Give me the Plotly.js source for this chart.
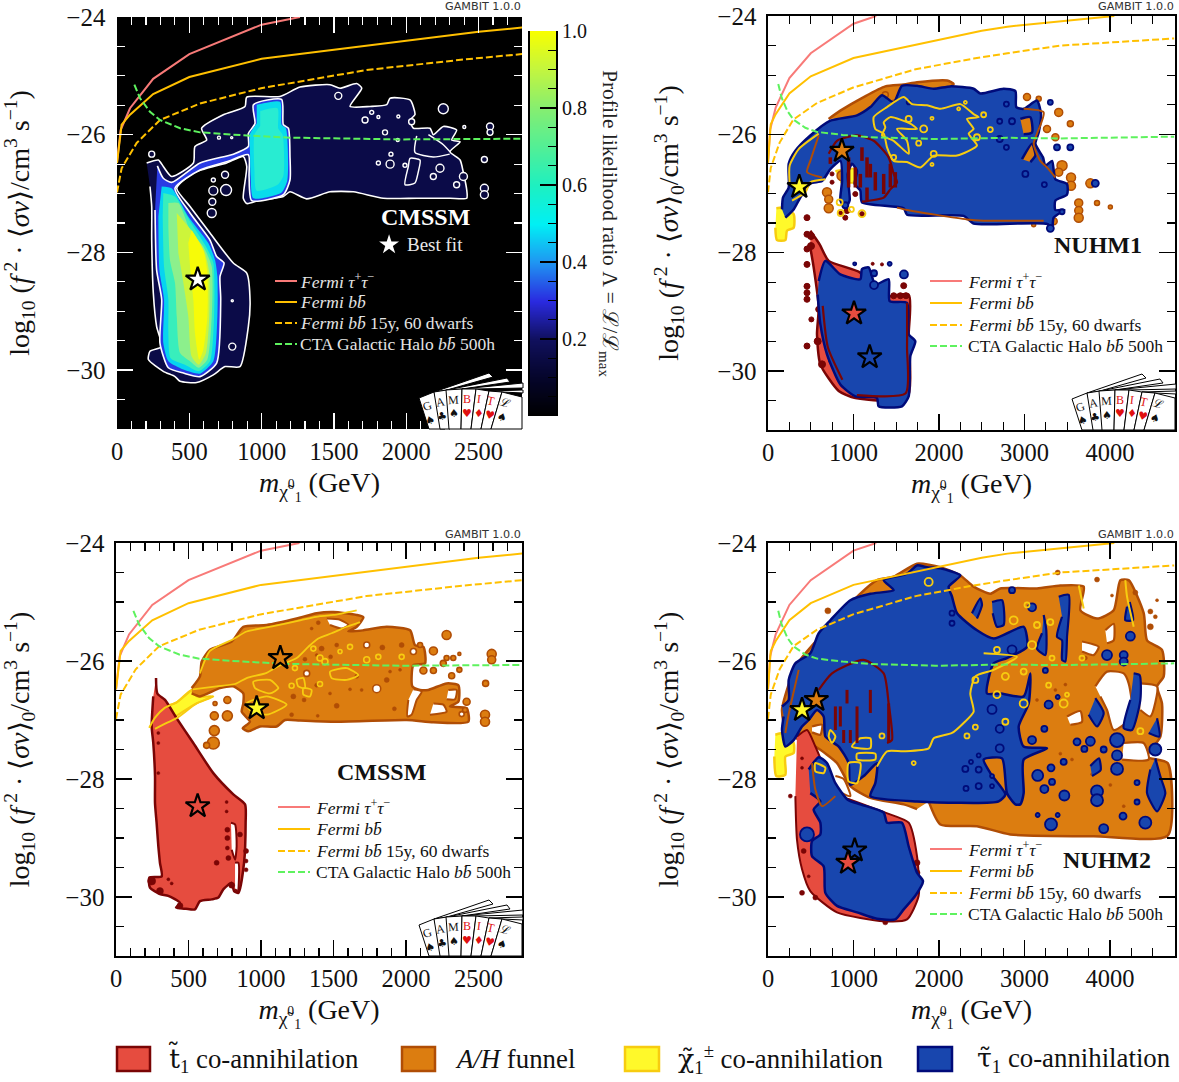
<!DOCTYPE html>
<html><head><meta charset="utf-8">
<script src="https://cdn.plot.ly/plotly-3.0.1.min.js"></script>
<style>html,body{margin:0;padding:0;background:#fff}#c{width:1179px;height:1082px}</style>
</head><body><div id="c"></div>
<script>
// ---------- limit curves (mass GeV, log10 <sigma v>) ----------
const tauMass=[0,25,90,250,500,1000,1265];
const tauLimit=[-26.48,-25.92,-25.55,-25.05,-24.63,-24.13,-24.0];
const bbMass=[0,32,90,250,500,1000,2500,2800,4050];
const bbLimit=[-26.48,-25.83,-25.66,-25.31,-25.02,-24.71,-24.25,-24.18,-24.0];
const bb15Mass=[0,32,136,297,574,996,1726,2405,2800,3420,4750];
const bb15Limit=[-26.98,-26.57,-26.14,-25.75,-25.47,-25.21,-24.90,-24.72,-24.63,-24.50,-24.38];
const ctaMass=[120,159,228,297,436,574,873,1196,1957,2800,3420,4750];
const ctaLimit=[-25.15,-25.38,-25.61,-25.75,-25.89,-25.96,-26.01,-26.05,-26.08,-26.06,-26.07,-26.04];

// ---------- panel 1: profile likelihood regions ----------
const plOuter=[[205,-26.48],[286,-26.43],[320,-26.54],[378,-26.71],[528,-26.48],[539,-26.20],[620,-26.09],[585,-25.89],[735,-25.66],[885,-25.52],[897,-25.36],[1127,-25.35],[1265,-25.19],[1473,-25.15],[1542,-25.21],[1657,-25.13],[1692,-25.21],[1611,-25.52],[1749,-25.52],[1865,-25.49],[1888,-25.38],[2026,-25.41],[2060,-25.66],[2026,-25.75],[2049,-25.89],[2164,-25.89],[2187,-26.00],[2256,-25.86],[2348,-25.92],[2314,-26.09],[2372,-26.12],[2302,-26.29],[2372,-26.43],[2395,-26.65],[2418,-26.94],[2418,-27.08],[2302,-27.08],[2072,-27.08],[1841,-27.08],[1634,-26.97],[1473,-26.97],[1311,-27.09],[1196,-26.97],[1150,-27.05],[989,-27.11],[897,-27.17],[873,-27.08],[897,-26.54],[873,-26.37],[758,-26.48],[528,-26.65],[413,-26.91],[505,-27.22],[643,-27.67],[804,-28.18],[897,-28.35],[920,-28.83],[908,-29.26],[850,-29.94],[747,-29.94],[666,-30.08],[551,-30.21],[436,-30.19],[401,-30.11],[320,-30.02],[217,-29.82],[228,-29.68],[309,-29.60],[274,-29.26],[251,-28.69],[240,-27.79],[240,-27.22],[228,-26.88]];
const plInner=[[279,-26.53],[320,-26.74],[378,-26.81],[574,-26.48],[804,-26.33],[908,-26.20],[908,-25.98],[954,-25.81],[943,-25.49],[1138,-25.40],[1150,-25.83],[1185,-25.89],[1196,-26.37],[1196,-26.77],[1150,-27.02],[931,-27.12],[913,-26.71],[908,-26.34],[758,-26.46],[574,-26.60],[401,-26.91],[505,-27.33],[643,-27.79],[689,-28.07],[740,-28.18],[712,-28.41],[717,-28.80],[689,-29.88],[574,-30.11],[459,-30.05],[355,-29.96],[297,-29.54],[309,-28.80],[274,-28.30],[263,-27.28]];
const plBox=[[966,-25.49],[1127,-25.44],[1138,-25.83],[1168,-25.89],[1178,-26.77],[1138,-26.98],[943,-27.08],[924,-26.71],[920,-26.34],[920,-25.98],[966,-25.81]];
const plBoxCore=[[990,-25.60],[1110,-25.55],[1115,-25.90],[1145,-26.00],[1150,-26.70],[1110,-26.85],[965,-26.95],[950,-26.60],[950,-26.00],[990,-25.85]];
const plLevel1=[[309,-26.88],[378,-26.91],[493,-27.39],[631,-27.84],[678,-28.13],[694,-28.41],[694,-29.09],[666,-29.85],[574,-30.06],[459,-29.99],[355,-29.85],[320,-29.54],[325,-28.80],[293,-28.30],[286,-27.39]];
const plLevel2=[[320,-26.99],[401,-27.05],[505,-27.47],[615,-27.90],[666,-28.18],[671,-29.09],[643,-29.85],[565,-30.02],[470,-29.91],[371,-29.80],[355,-29.37],[355,-28.80],[325,-28.24],[316,-27.39]];
const plLevel3=[[355,-27.16],[424,-27.16],[505,-27.62],[597,-27.90],[655,-28.24],[655,-29.09],[625,-29.82],[565,-29.96],[505,-29.85],[436,-29.71],[413,-29.09],[401,-28.52],[366,-28.13],[355,-27.56]];
const plLevel4=[[413,-27.33],[528,-27.67],[608,-28.01],[638,-28.35],[638,-29.09],[615,-29.71],[565,-29.91],[516,-29.77],[493,-29.09],[459,-28.52],[424,-28.01]];
const plLevel5=[[516,-27.62],[597,-27.96],[625,-28.35],[625,-29.09],[597,-29.65],[569,-29.82],[539,-29.37],[528,-28.80],[505,-28.24],[493,-27.84]];
const plLoops=[[[2026,-26.40],[2095,-26.43],[2083,-26.63],[2060,-26.82],[1991,-26.85],[2014,-26.54],[2026,-26.40]],[[2072,-26.02],[2060,-26.30],[2187,-26.38],[2300,-26.33]],[[2153,-26.00],[2256,-26.17],[2302,-26.29]]];
const plIslands=[[666,-26.95,9],[754,-26.94,11],[659,-27.14,7],[655,-27.33,9],[747,-26.68,7],[666,-26.77,4],[240,-26.33,6],[2256,-25.56,10],[2579,-25.86,7],[2579,-25.96,6],[2540,-26.42,6],[2540,-26.91,8],[2540,-27.02,8],[1530,-25.34,7],[1715,-25.75,6],[1761,-25.62,4],[1853,-25.96,5],[1888,-26.50,8],[1807,-26.48,4],[1894,-26.33,4],[1945,-25.69,3],[1807,-25.70,3],[2037,-25.78,6],[2401,-25.87,3],[2187,-26.71,6],[2233,-26.57,8],[2348,-26.85,6],[2395,-26.71,8],[1991,-26.52,4],[797,-29.60,7],[797,-28.82,2],[705,-26.05,3],[793,-26.05,2],[1941,-26.09,3]];

// ---------- panel 3: CMSSM regions ----------
const cmssmStop=[[276,-26.29],[285,-26.55],[338,-26.66],[418,-26.97],[533,-27.39],[671,-27.90],[809,-28.26],[890,-28.43],[894,-28.74],[883,-29.42],[844,-29.93],[814,-29.90],[798,-29.76],[740,-29.87],[706,-30.01],[660,-30.04],[579,-30.07],[545,-30.21],[483,-30.20],[414,-30.18],[441,-30.10],[361,-29.98],[303,-29.95],[234,-29.84],[230,-29.67],[315,-29.65],[303,-29.42],[292,-29.14],[280,-28.74],[269,-28.41],[269,-27.95],[257,-27.39],[246,-27.11],[257,-26.60]];
const cmssmStopHole1=[[793,-28.74],[821,-28.77],[832,-29.14],[821,-29.37],[798,-29.20]];
const cmssmStopHole2=[[821,-29.42],[844,-29.42],[839,-29.90],[821,-29.87]];
const cmssmFunnel=[[522,-26.46],[579,-26.26],[591,-26.01],[648,-25.81],[798,-25.67],[878,-25.42],[1039,-25.39],[1246,-25.28],[1384,-25.19],[1499,-25.17],[1660,-25.22],[1706,-25.26],[1660,-25.42],[1602,-25.50],[1706,-25.48],[1867,-25.42],[2028,-25.48],[2062,-25.73],[2120,-25.76],[2131,-26.04],[2051,-26.07],[2044,-26.43],[2097,-26.49],[2154,-26.49],[2280,-26.38],[2361,-26.41],[2361,-26.69],[2303,-26.77],[2418,-26.80],[2430,-27.03],[2189,-27.04],[2005,-27.00],[1499,-27.03],[1269,-27.01],[1166,-27.00],[1108,-27.11],[993,-27.11],[913,-27.19],[874,-27.14],[924,-27.03],[867,-26.86],[878,-26.72],[878,-26.55],[809,-26.43],[717,-26.46],[579,-26.60],[522,-26.55]];
const cmssmFunnelHoles=[[[1453,-25.28],[1545,-25.30],[1602,-25.39],[1556,-25.45],[1476,-25.39]],[[2051,-26.48],[2108,-26.52],[2074,-26.66],[2039,-26.91],[2010,-26.94],[2016,-26.66]],[[2292,-26.49],[2349,-26.49],[2338,-26.65],[2280,-26.65]],[[2189,-26.72],[2257,-26.74],[2280,-26.86],[2165,-26.91]]];
const cmssmChargino=[[230,-27.13],[327,-26.79],[418,-26.70],[522,-26.49],[556,-26.60],[671,-26.60],[556,-26.72],[430,-26.91],[350,-27.05],[269,-27.15]];
const cmssmCharginoEdge=[[[230,-27.13],[269,-26.96],[338,-26.79],[418,-26.70],[522,-26.49]],[[269,-27.15],[350,-27.05],[418,-26.97],[556,-26.72],[671,-26.60]]];
const cmssmFunnelIslands=[[2280,-25.56,9],[2591,-25.88,9],[2591,-25.98,8],[2189,-25.83,8],[2280,-25.95,5],[2326,-25.95,5],[2257,-26.04,6],[2120,-26.16,7],[2189,-26.16,6],[2315,-26.25,6],[2368,-26.15,5],[2368,-25.88,3],[2097,-25.73,5],[2549,-26.38,6],[2545,-26.91,9],[2545,-27.03,9],[2418,-26.69,7],[2407,-26.83,5],[683,-26.72,4],[768,-26.66,7],[678,-26.93,8],[768,-26.93,10],[678,-27.18,10],[671,-27.39,12],[625,-27.43,6]];
const cmssmWhiteDots=[[1729,-25.73,6],[1315,-26.21,6],[1798,-26.47,8],[2051,-25.84,6],[2384,-26.90,5]];
const cmssmFunnelDots=[[1395,-25.35,4],[1349,-25.45,3],[1418,-25.79,5],[1522,-25.73,4],[1480,-25.93,4],[1384,-25.90,3],[1303,-25.97,4],[1223,-26.60,5],[1297,-26.66,4],[1522,-26.76,5],[1391,-26.93,3],[1920,-26.81,4],[1867,-26.32,5],[1837,-25.77,5],[1970,-25.73,5],[1959,-26.15,3],[1890,-26.18,3],[1384,-26.41,4],[1614,-26.48,3],[1694,-26.49,3],[1211,-26.91,4],[1476,-26.55,3],[1660,-26.26,4]];
const cmssmFunnelYellowLines=[[[579,-26.21],[648,-25.83],[809,-25.63],[901,-25.50],[1085,-25.41],[1269,-25.31],[1407,-25.24],[1499,-25.22],[1660,-25.14]],[[529,-26.48],[694,-26.43],[821,-26.39],[901,-26.29],[1039,-26.20],[1131,-26.07],[1246,-25.95],[1326,-25.76],[1395,-25.62],[1487,-25.53],[1591,-25.42],[1683,-25.34]],[[947,-26.35],[1062,-26.32],[1120,-26.46],[1062,-26.55],[959,-26.46],[947,-26.35]],[[901,-26.72],[1039,-26.60],[1177,-26.74],[1039,-26.91],[924,-26.83],[901,-26.72]],[[1292,-26.46],[1349,-26.49],[1338,-26.60],[1292,-26.57],[1292,-26.46]],[[1246,-26.32],[1292,-26.29],[1303,-26.46],[1257,-26.43],[1246,-26.32]],[[1476,-26.18],[1591,-26.12],[1671,-26.24],[1591,-26.32],[1487,-26.29],[1476,-26.18]]];
const cmssmYellowRings=[[1211,-26.42,5],[1407,-25.95,6],[1729,-25.98,6],[1809,-25.93,5],[1970,-25.93,5],[1614,-25.76,5],[1545,-25.84,4],[1361,-25.79,5],[1441,-26.01,6],[1407,-26.39,5],[1234,-26.12,5]];
const cmssmStopDots=[[292,-27.22,3],[292,-27.39,3],[292,-27.90,3],[763,-28.39,3],[763,-28.55,3],[694,-29.42,5],[897,-29.22,5],[897,-29.39,4],[897,-29.54,4],[798,-29.80,6],[246,-29.73,8],[303,-29.90,7],[361,-29.70,3],[384,-29.77,3],[441,-30.15,6],[768,-28.86,5],[768,-29.00,5],[768,-29.17,4],[775,-29.34,5],[855,-28.94,5]];

// ---------- panel 2: NUHM1 regions ----------
const nuhm1StauUpper=[[164,-27.27],[175,-27.07],[242,-26.90],[242,-26.50],[320,-26.28],[495,-26.02],[729,-25.77],[1041,-25.68],[1197,-25.54],[1333,-25.34],[1470,-25.46],[1567,-25.18],[1743,-25.18],[1938,-25.23],[2133,-25.19],[2405,-25.23],[2483,-25.31],[2756,-25.23],[2893,-25.27],[2904,-25.54],[2990,-25.57],[3146,-25.43],[3193,-25.66],[3166,-25.97],[3127,-26.16],[3216,-26.39],[3244,-26.53],[3322,-26.45],[3361,-26.76],[3497,-26.84],[3497,-27.02],[3361,-27.12],[3361,-27.28],[3466,-27.28],[3341,-27.41],[3322,-27.63],[3271,-27.52],[2405,-27.51],[2288,-27.38],[1626,-27.36],[1587,-27.25],[1099,-27.15],[1080,-26.95],[1014,-26.84],[1041,-26.62],[982,-26.50],[932,-26.67],[955,-27.12],[904,-27.24],[846,-27.12],[866,-26.79],[846,-26.45],[729,-26.59],[632,-26.79],[495,-26.83],[378,-27.07],[300,-27.27],[203,-27.41]];
const nuhm1StauLower=[[593,-28.48],[671,-28.14],[846,-28.37],[1080,-28.45],[1099,-28.28],[1177,-28.25],[1255,-28.54],[1411,-28.45],[1423,-28.82],[1626,-28.85],[1645,-29.38],[1723,-29.50],[1665,-29.75],[1645,-30.43],[1567,-30.60],[1294,-30.60],[1275,-30.46],[1021,-30.43],[846,-30.23],[690,-29.72],[612,-29.21],[581,-28.71]];
const nuhm1Stop=[[495,-27.63],[604,-27.86],[710,-28.14],[1080,-28.34],[1275,-28.76],[1645,-28.71],[1645,-29.38],[1626,-30.46],[1021,-30.46],[827,-30.34],[612,-29.89],[573,-29.38],[593,-28.93],[534,-28.25],[495,-27.92]];
const nuhm1Funnel=[[709,-25.74],[846,-25.60],[1119,-25.37],[1372,-25.19],[1587,-25.16],[1743,-25.12],[2094,-25.09],[2172,-25.15],[2094,-25.23],[1470,-25.43],[1080,-25.71]];
const nuhm1Chargino=[[98,-27.25],[183,-27.24],[300,-27.35],[300,-27.58],[222,-27.63],[203,-27.79],[105,-27.79],[86,-27.58]];
const nuhm1CharginoPatch=[[788,-26.62],[1021,-26.59],[1021,-26.81],[846,-26.81]];
const nuhm1FunnelNotches=[[[2951,-25.74],[3068,-25.71],[3088,-25.97],[2990,-26.00]],[[2971,-26.42],[3088,-26.16],[3127,-26.36],[3068,-26.47]]];
const nuhm1FunnelIslands=[[3029,-25.37,7],[3166,-25.40,5],[3400,-25.63,8],[3536,-25.82,6],[3263,-25.91,7],[3361,-26.05,7],[3439,-26.53,10],[3400,-26.64,8],[3544,-26.73,9],[3544,-26.87,9],[3263,-27.04,8],[3770,-26.83,9],[3634,-27.16,8],[3634,-27.29,8],[3634,-27.41,9],[3848,-27.16,5],[4004,-27.23,4],[3107,-27.27,5],[3341,-27.47,7],[3107,-27.53,4],[846,-25.85,7],[1372,-25.33,6],[515,-26.64,7],[710,-27.25,9],[690,-26.98,9],[710,-27.10,8],[866,-26.70,10],[2729,-25.88,4],[2725,-26.62,3],[2815,-26.55,3]];
const nuhm1StauIslands=[[3302,-25.46,5],[2788,-25.49,5],[2710,-25.78,5],[2854,-25.78,6],[2710,-26.08,6],[2788,-26.22,5],[3380,-26.22,6],[3536,-26.22,6],[3010,-26.67,6],[3232,-26.85,5],[3828,-26.83,7],[3439,-27.31,5],[3302,-27.59,7],[1645,-25.46,4],[1014,-28.19,3],[1423,-28.19,4],[1590,-28.37,8],[1240,-28.55,8],[1240,-28.35,6],[904,-27.20,6]];
const nuhm1YellowRings=[[1645,-25.74,6],[1821,-25.91,7],[2522,-25.67,5],[2600,-25.92,5],[1762,-26.15,5],[1938,-26.33,6],[1470,-26.39,5],[1918,-25.73,3],[2230,-25.57,3],[2308,-25.46,3],[1918,-26.51,3],[2444,-26.05,6],[838,-27.15,6],[850,-27.33,6],[1099,-27.34,7],[975,-27.27,5]];
const nuhm1MaroonDots=[[456,-27.41,6],[503,-27.72,7],[503,-27.89,7],[456,-27.69,6],[456,-27.94,6],[456,-28.20,6],[456,-28.57,6],[456,-28.68,6],[456,-28.79,6],[456,-29.58,6],[507,-29.13,5],[581,-29.50,7],[593,-28.96,6],[632,-29.89,7],[729,-29.84,3],[1224,-28.19,3],[1333,-28.20,3],[1470,-28.73,6],[1548,-28.73,6],[1614,-28.73,6],[1587,-28.56,6],[1501,-29.16,5],[1236,-26.36,3],[904,-27.41,5],[924,-27.29,6],[846,-27.34,5],[1099,-27.35,5],[1021,-27.01,5],[749,-26.67,4],[749,-26.81,4]];
const nuhm1MaroonStreaks=[[729,-26.39,-26.50],[1099,-26.22,-26.45],[1158,-26.39,-26.73],[1158,-26.90,-27.12],[1255,-26.64,-26.95],[1353,-26.67,-27.01],[1431,-26.50,-26.90],[1021,-26.56,-26.90],[1080,-26.67,-26.90],[943,-26.39,-26.90],[1489,-26.64,-26.90],[1197,-26.50,-26.73]];
const nuhm1MaroonLines=[[[710,-26.33],[807,-26.11],[1041,-26.02],[1236,-26.11],[1411,-26.39],[1470,-26.67],[1509,-26.81],[1431,-26.93],[1353,-27.07],[1099,-27.14]],[[1626,-28.85],[1626,-29.60],[1610,-30.38],[1040,-30.41]],[[640,-28.90],[700,-29.60],[870,-30.15]]];
const nuhm1OrangeLines=[[[593,-26.02],[495,-26.45],[456,-26.64],[632,-26.73]],[[1509,-27.24],[1626,-27.28],[2327,-27.44],[2522,-27.46],[3224,-27.46]],[[2990,-25.57],[3224,-25.63],[3146,-25.99],[3107,-26.16],[3185,-26.45],[3263,-26.56],[3361,-26.73]]];
const nuhm1YellowLines=[[[1236,-25.71],[1392,-25.54],[1587,-25.37],[1684,-25.49],[1860,-25.51],[2016,-25.57],[2250,-25.49],[2405,-25.66],[2464,-25.71],[2327,-25.74],[2405,-25.91],[2347,-25.99],[2444,-26.19],[2211,-26.36],[1938,-26.36],[1782,-26.56],[1626,-26.47],[1470,-26.45],[1392,-26.22],[1353,-25.99],[1255,-25.91],[1236,-25.71]],[[1353,-25.80],[1431,-25.71],[1665,-25.82],[1743,-25.91],[1509,-25.91],[1626,-26.11],[1645,-26.33],[1470,-26.11],[1333,-26.02],[1372,-25.88],[1353,-25.80]],[[253,-26.84],[253,-26.53],[359,-26.25],[593,-25.99]],[[281,-27.12],[437,-26.98],[495,-26.81],[671,-26.76]]];

// ---------- panel 4: NUHM2 regions ----------
const nuhm2Funnel=[[1879,-28.38],[2016,-28.77],[2444,-28.80],[2834,-28.94],[3809,-28.97],[4674,-28.96],[4674,-27.73],[4433,-27.62],[4589,-27.28],[4608,-26.72],[4550,-26.43],[4628,-26.26],[4608,-25.81],[4433,-25.65],[4394,-25.19],[4218,-24.63],[4121,-24.63],[4043,-25.14],[3848,-25.28],[3653,-25.14],[3692,-24.74],[3419,-24.72],[3146,-24.77],[2717,-24.77],[2600,-24.86],[2405,-24.74],[2250,-24.55],[2016,-24.41],[1743,-24.35],[1470,-24.57],[1275,-24.63],[1080,-24.86],[378,-25.98],[261,-26.32],[164,-26.83],[222,-27.22],[554,-27.45],[807,-27.73],[963,-28.12],[1197,-28.32],[1587,-28.43],[1743,-28.51]];
const nuhm2FunnelHoles=[[[3828,-26.43],[3965,-26.18],[4160,-26.21],[4218,-26.38],[4257,-26.94],[4043,-27.17],[3965,-26.83],[3887,-26.60]],[[3497,-26.94],[3653,-26.85],[3672,-27.03],[3536,-27.08]],[[3672,-25.67],[3867,-25.76],[3809,-25.90],[3672,-25.84]],[[4160,-27.39],[4394,-27.39],[4452,-27.67],[4141,-27.67]],[[4355,-26.38],[4550,-26.43],[4472,-26.94],[4355,-26.83]],[[515,-27.11],[632,-27.08],[612,-27.25],[515,-27.21]],[[3945,-25.48],[4043,-25.37],[4043,-25.65],[3965,-25.70]],[[788,-27.95],[885,-28.00],[963,-28.29],[866,-28.24]]];
const nuhm2Stop=[[339,-27.28],[456,-27.17],[554,-27.45],[671,-27.84],[846,-28.29],[963,-28.35],[1372,-28.57],[1645,-28.74],[1743,-29.31],[1762,-29.98],[1626,-30.38],[1353,-30.41],[807,-30.26],[495,-29.90],[398,-29.53],[339,-29.03],[320,-28.29]];
const nuhm2StauUpper=[[164,-26.77],[242,-26.66],[242,-26.32],[320,-26.04],[495,-25.87],[593,-25.53],[729,-25.31],[963,-24.97],[1197,-24.86],[1470,-24.80],[1353,-24.63],[1626,-24.52],[1743,-24.38],[1860,-24.41],[2016,-24.43],[2250,-24.55],[2113,-24.74],[2152,-24.91],[2211,-25.19],[2444,-25.48],[2639,-25.62],[2990,-25.42],[3029,-25.76],[2795,-25.95],[2639,-26.04],[2561,-26.55],[2717,-26.55],[2990,-26.60],[3068,-26.21],[3049,-26.72],[2932,-27.11],[2990,-27.45],[3263,-27.48],[2990,-27.67],[2990,-28.24],[2951,-28.43],[2893,-28.43],[2795,-28.24],[2737,-27.65],[2522,-27.67],[2600,-27.90],[2776,-28.26],[2698,-28.38],[1743,-28.38],[1197,-28.29],[1255,-28.07],[1275,-27.73],[1119,-27.95],[963,-28.10],[943,-27.73],[827,-27.45],[671,-27.28],[651,-26.94],[573,-26.83],[476,-27.00],[398,-27.11],[300,-27.34],[203,-27.45],[164,-27.17],[183,-26.94]];
const nuhm2StauLower=[[476,-27.84],[593,-27.63],[690,-27.73],[788,-28.07],[932,-28.35],[1080,-28.43],[1353,-28.57],[1392,-28.74],[1567,-28.74],[1645,-29.14],[1743,-29.59],[1813,-29.73],[1723,-29.98],[1587,-30.21],[1489,-30.38],[1275,-30.37],[1041,-30.26],[807,-30.15],[671,-29.93],[651,-29.48],[515,-29.31],[515,-29.05],[612,-28.94],[612,-28.74],[534,-28.52],[612,-28.38],[495,-28.24]];
const nuhm2StauPolys=[[[4530,-27.65],[4589,-27.96],[4647,-28.24],[4550,-28.55],[4433,-28.24],[4472,-27.84]],[[4230,-25.00],[4269,-25.31],[4179,-25.31],[4199,-25.08]],[[3400,-24.91],[3517,-24.88],[3497,-25.59],[3478,-26.01],[3439,-25.98],[3439,-25.65],[3380,-25.59],[3439,-25.25]],[[3224,-25.22],[3255,-25.48],[3244,-25.90],[3146,-25.79],[3205,-25.53]],[[2620,-25.00],[2737,-24.97],[2756,-25.39],[2678,-25.42],[2628,-25.19]],[[2386,-25.19],[2483,-24.94],[2503,-25.05],[2444,-25.28]],[[4277,-26.21],[4347,-26.24],[4355,-26.66],[4257,-27.17],[4160,-27.14],[4238,-26.66]],[[3828,-26.63],[3926,-26.88],[3848,-27.11],[3750,-26.91]],[[4550,-26.97],[4577,-27.28],[4452,-27.22]],[[3770,-27.78],[3870,-27.65],[3890,-27.85],[3790,-27.95]]];
const nuhm2StauIslands=[[4082,-27.34,14],[4082,-27.60,10],[4082,-27.83,12],[4530,-27.50,12],[3848,-28.21,12],[3848,-28.36,12],[3965,-25.90,10],[4160,-25.90,8],[4160,-26.01,8],[4238,-25.58,9],[3770,-27.36,9],[3614,-27.37,7],[3700,-27.49,6],[3926,-27.50,6],[3310,-28.77,12],[3926,-28.84,9],[4413,-28.74,12],[4152,-28.63,7],[3154,-27.94,11],[3310,-27.81,7],[3232,-28.17,8],[3466,-28.28,10],[3322,-28.05,6],[3088,-27.34,8],[3232,-27.15,6],[3458,-27.71,6],[4316,-28.06,5],[4316,-28.39,5],[3154,-28.61,4],[3388,-28.61,4],[3282,-26.74,8],[2854,-24.80,6],[3088,-25.09,8],[2620,-26.82,9],[2710,-27.15,8],[456,-28.94,14],[2854,-25.81,9],[3244,-26.16,5],[2152,-25.19,5],[2152,-25.36,5],[3388,-26.61,4],[2308,-27.83,6],[2464,-27.84,6],[2464,-28.12,6],[2316,-28.16,5],[2710,-27.48,8],[2620,-27.95,4],[2620,-28.12,4],[2374,-27.71,4],[2464,-27.60,4]];
const nuhm2FunnelDots=[[3388,-24.50,5],[3848,-24.62,5],[4296,-24.84,5],[4550,-24.97,3],[700,-25.15,6],[4472,-25.16,5],[4530,-25.25,4],[4472,-25.42,6],[4023,-24.89,3],[3712,-25.95,4],[4004,-28.10,3],[4160,-28.46,3],[3790,-27.92,3],[3419,-27.57,3],[3555,-27.67,3],[3478,-26.40,3],[3361,-26.49,3],[3146,-26.66,3]];
const nuhm2Chargino=[[86,-27.25],[203,-27.22],[300,-27.39],[300,-27.56],[203,-27.62],[203,-27.93],[97,-27.95],[74,-27.62]];
const nuhm2YellowLines=[[[1275,-27.79],[1392,-27.53],[1587,-27.53],[1879,-27.48],[1938,-27.31],[2152,-27.22],[2288,-27.05],[2405,-26.86],[2366,-26.55],[2425,-26.26],[2639,-26.15],[2912,-25.93],[2522,-25.87]],[[1080,-27.31],[1197,-27.31],[1197,-27.48],[982,-27.45],[1080,-27.31]],[[1041,-27.57],[1255,-27.57],[1255,-27.67],[1041,-27.67],[1041,-27.57]],[[943,-27.73],[1080,-27.73],[1041,-28.07],[943,-28.04],[943,-27.73]],[[729,-27.17],[788,-27.28],[749,-27.39],[710,-27.28],[729,-27.17]],[[554,-27.73],[671,-27.81],[651,-27.90],[554,-27.87],[554,-27.73]],[[4179,-24.63],[4199,-24.91],[4277,-25.42]],[[3634,-24.72],[3692,-25.11]]];
const nuhm2YellowRings=[[1879,-24.66,8],[2873,-25.31,8],[3146,-25.39,6],[3302,-25.34,6],[3088,-25.73,8],[3322,-25.95,5],[3672,-25.95,5],[2425,-26.32,6],[2678,-26.57,7],[2990,-26.72,8],[2776,-27.03,6],[2425,-27.12,5],[2327,-27.27,5],[1704,-27.73,4],[1333,-27.27,5],[3282,-26.41,5],[3458,-26.72,8],[3497,-26.57,4],[4355,-27.19,6],[3029,-25.05,5],[2678,-25.81,6],[2990,-26.18,6],[2776,-26.26,7]];
const nuhm2MaroonDots=[[398,-27.65,3],[398,-27.81,3],[261,-28.29,4],[417,-29.22,5],[398,-29.93,5],[476,-29.65,3],[554,-30.01,5],[1372,-30.43,5],[1743,-29.42,6],[1743,-29.59,6],[1423,-28.01,4],[1353,-26.39,4]];
const nuhm2MaroonStreaks=[[924,-26.49,-26.72],[788,-26.77,-27.17],[1197,-26.49,-26.88],[1041,-26.77,-27.39],[963,-27.17,-27.39],[885,-27.17,-27.39],[846,-26.77,-27.11],[1411,-26.72,-27.39]];
const nuhm2MaroonLines=[[[593,-26.49],[749,-26.21],[1119,-25.98],[1353,-26.21],[1411,-26.72],[1450,-27.34],[1392,-27.39]]];
const nuhm2OrangeLines=[[[203,-27.22],[222,-27.05],[261,-26.77],[359,-26.15]],[[515,-27.73],[554,-28.18],[632,-28.46],[788,-28.29]]];

// ---------- best-fit points ----------
const cmssmBest={stop:[563,-28.46],funnel:[1133,-25.95],chargino:[970,-26.80]};
const nuhm1Best={funnel:[864,-26.28],chargino:[366,-26.89],stop:[1006,-29.03],stau:[1189,-29.77]};
const nuhm2Best={chargino:[398,-26.83],funnel:[565,-26.66],stau:[1014,-29.21],stop:[936,-29.42]};
const profileBest=[558,-28.46];
const keyStar=[1881,-27.87];

// ---------- colour bar ----------
const barLevels=[0,.05,.1,.15,.2,.25,.3,.35,.4,.45,.5,.55,.6,.65,.7,.75,.8,.85,.9,.95,1];
const barTicks=[.2,.4,.6,.8,1];
const lkScale=[[0,'#000000'],[.1,'#05052a'],[.2,'#10105e'],[.3,'#2a2ae0'],[.4,'#1f96f2'],[.5,'#00f0f4'],[.6,'#1ef0c0'],[.7,'#52ef96'],[.8,'#86ee70'],[.9,'#c2f540'],[1,'#f8ff00']];

// ---------- legend text ----------
const curveNames=['<i>Fermi</i> <i>τ</i><sup>+</sup><i>τ</i><sup>−</sup>','<i>Fermi</i> <i>bb̄</i>','<i>Fermi</i> <i>bb̄</i> 15y, 60 dwarfs','CTA Galactic Halo <i>bb̄</i> 500h'];

// ---------- styles ----------
const F='"Liberation Serif",serif';
const C={red:'#e64c3f',redE:'#7a0505',org:'#dc7d10',orgE:'#b04d05',yel:'#fff92a',yelE:'#f7cc10',blu:'#1846ae',bluE:'#000b7a'};
const CURVE={tau:'#f87a78',bb:'#ffc000',cta:'#5ef25e'};
const traces=[];
const W=1179,H=1082;
const px=v=>v/W, py=v=>1-v/H;

function xs(a){return a.map(p=>p[0])} function ys(a){return a.map(p=>p[1])}
function poly(ax,pts,fill,line,lw){
  traces.push({type:'scatter',mode:'lines',x:xs(pts),y:ys(pts),xaxis:'x'+ax,yaxis:'y'+ax,fill:'toself',fillcolor:fill,line:{color:line,width:lw==null?2.5:lw,shape:'spline',smoothing:.6},showlegend:false,hoverinfo:'skip'});
}
function stroke(ax,pts,color,lw){
  traces.push({type:'scatter',mode:'lines',x:xs(pts),y:ys(pts),xaxis:'x'+ax,yaxis:'y'+ax,line:{color:color,width:lw,shape:'spline',smoothing:.6},showlegend:false,hoverinfo:'skip'});
}
function dots(ax,list,fill,line,lw){
  traces.push({type:'scatter',mode:'markers',x:xs(list),y:ys(list),xaxis:'x'+ax,yaxis:'y'+ax,marker:{size:list.map(p=>p[2]),opacity:1,color:fill,line:{color:line,width:lw}},showlegend:false,hoverinfo:'skip'});
}
function streaks(ax,list,color,lw){
  const x=[],y=[];list.forEach(s=>{x.push(s[0],s[0],null);y.push(s[1],s[2],null)});
  traces.push({type:'scatter',mode:'lines',x,y,xaxis:'x'+ax,yaxis:'y'+ax,line:{color,width:lw},showlegend:false,hoverinfo:'skip'});
}
function star(ax,pt,fill,size){
  traces.push({type:'scatter',mode:'markers',x:[pt[0]],y:[pt[1]],xaxis:'x'+ax,yaxis:'y'+ax,marker:{symbol:'star',size:size||18,opacity:1,color:fill,line:{color:'#000',width:2.2}},showlegend:false,hoverinfo:'skip'});
}
function limits(ax){
  const defs=[[tauMass,tauLimit,CURVE.tau,'solid',0],[bbMass,bbLimit,CURVE.bb,'solid',1],[bb15Mass,bb15Limit,CURVE.bb,'7px,3px',2],[ctaMass,ctaLimit,CURVE.cta,'7px,3px',3]];
  defs.forEach(d=>traces.push({type:'scatter',mode:'lines',name:curveNames[d[4]],x:d[0],y:d[1],xaxis:'x'+ax,yaxis:'y'+ax,line:{color:d[2],width:2,dash:d[3]},showlegend:false,hoverinfo:'skip'}));
}

// ---- Panel 1 ----
poly('',plOuter,'#0b0b48','#ffffff',1.6);
dots('',plIslands,'#0a0a40','#ffffff',1.4);
plLoops.forEach(l=>stroke('',l,'#ffffff',1.5));
poly('',plInner,'#2a3be4','#ffffff',1.6);
poly('',plLevel1,'#06d4f0','rgba(0,0,0,0)',0);
poly('',plLevel2,'#38eebc','rgba(0,0,0,0)',0);
poly('',plLevel3,'#8cf08c','rgba(0,0,0,0)',0);
poly('',plLevel4,'#cdf53a','rgba(0,0,0,0)',0);
poly('',plLevel5,'#f7fb08','rgba(0,0,0,0)',0);
poly('',plBox,'#08dcec','rgba(0,0,0,0)',0);
poly('',plBoxCore,'#28ecd2','rgba(0,0,0,0)',0);
limits('');
star('',profileBest,'#ffffff',18);
traces.push({type:'scatter',mode:'markers',x:[keyStar[0]],y:[keyStar[1]],marker:{symbol:'star',size:15,color:'#fff',line:{width:0}},showlegend:false,hoverinfo:'skip'});

// ---- Panel 2 ----
poly('2',nuhm1Chargino,C.yel,C.yelE,2.5);
poly('2',nuhm1CharginoPatch,C.yel,C.yelE,2);
poly('2',nuhm1Funnel,C.org,C.orgE,2.5);
dots('2',nuhm1FunnelIslands,C.org,C.orgE,1.5);
poly('2',nuhm1Stop,C.red,C.redE,2.5);
dots('2',nuhm1MaroonDots,C.redE,C.redE,1);
poly('2',nuhm1StauUpper,C.blu,C.bluE,2.5);
poly('2',nuhm1StauLower,C.blu,C.bluE,2.5);
nuhm1FunnelNotches.forEach(p=>poly('2',p,C.org,C.bluE,2.5));
dots('2',nuhm1StauIslands,C.blu,C.bluE,1.8);
nuhm1OrangeLines.forEach(l=>stroke('2',l,C.orgE,2));
nuhm1YellowLines.forEach(l=>stroke('2',l,C.yelE,2));
dots('2',nuhm1YellowRings,'rgba(0,0,0,0)',C.yelE,1.8);
nuhm1MaroonLines.forEach(l=>stroke('2',l,C.redE,2.2));
streaks('2',nuhm1MaroonStreaks,C.redE,3.5);
limits('2');
star('2',nuhm1Best.funnel,C.org); star('2',nuhm1Best.chargino,C.yel); star('2',nuhm1Best.stop,C.red); star('2',nuhm1Best.stau,C.blu);

// ---- Panel 3 ----
poly('3',cmssmChargino,C.yel,C.yelE,2);
poly('3',cmssmFunnel,C.org,C.orgE,2.5);
cmssmFunnelHoles.forEach(p=>poly('3',p,'#ffffff',C.orgE,2));
dots('3',cmssmFunnelIslands,C.org,C.orgE,1.6);
dots('3',cmssmWhiteDots,'#ffffff',C.orgE,1.6);
dots('3',cmssmFunnelDots,C.orgE,C.orgE,0.5);
poly('3',cmssmStop,C.red,C.redE,2.5);
poly('3',cmssmStopHole1,'#ffffff',C.redE,2);
poly('3',cmssmStopHole2,'#ffffff',C.redE,2);
dots('3',cmssmStopDots,C.redE,C.redE,.5);
cmssmFunnelYellowLines.forEach(l=>stroke('3',l,C.yelE,1.8));
cmssmCharginoEdge.forEach(l=>stroke('3',l,C.yelE,2));
dots('3',cmssmYellowRings,'rgba(0,0,0,0)',C.yelE,1.6);
limits('3');
star('3',cmssmBest.stop,C.red); star('3',cmssmBest.funnel,C.org); star('3',cmssmBest.chargino,C.yel);

// ---- Panel 4 ----
poly('4',nuhm2Chargino,C.yel,C.yelE,2.5);
poly('4',nuhm2Funnel,C.org,C.orgE,2.5);
nuhm2FunnelHoles.forEach(p=>poly('4',p,'#ffffff',C.orgE,2.2));
poly('4',nuhm2Stop,C.red,C.redE,2);
dots('4',nuhm2FunnelDots,C.orgE,C.orgE,.5);
dots('4',nuhm2MaroonDots,C.redE,C.redE,.5);
poly('4',nuhm2StauUpper,C.blu,C.bluE,2.5);
poly('4',nuhm2StauLower,C.blu,C.bluE,2.5);
nuhm2StauPolys.forEach(p=>poly('4',p,C.blu,C.bluE,2.2));
dots('4',nuhm2StauIslands,C.blu,C.bluE,1.8);
nuhm2OrangeLines.forEach(l=>stroke('4',l,C.orgE,2));
nuhm2YellowLines.forEach(l=>stroke('4',l,C.yelE,2));
dots('4',nuhm2YellowRings,'rgba(0,0,0,0)',C.yelE,1.8);
nuhm2MaroonLines.forEach(l=>stroke('4',l,C.redE,2.2));
streaks('4',nuhm2MaroonStreaks,C.redE,3);
limits('4');
star('4',nuhm2Best.stau,C.blu); star('4',nuhm2Best.stop,C.red); star('4',nuhm2Best.funnel,C.org); star('4',nuhm2Best.chargino,C.yel);

// ---- Colour bar ----
traces.push({type:'heatmap',x:[0,1],y:barLevels,z:barLevels.map(v=>[v,v]),xaxis:'x5',yaxis:'y5',colorscale:lkScale,zmin:0,zmax:1,showscale:false,zsmooth:'best',hoverinfo:'skip'});

// ---- axes ----
function xax(l,r,dt,mn,rng,col,title){return {domain:[px(l),px(r)],range:[0,rng],dtick:dt,tick0:0,ticks:'inside',ticklen:16,tickwidth:1.4,tickcolor:col,mirror:'allticks',showline:true,linecolor:col==='#fff'?'#fff':'#000',linewidth:1.6,showgrid:false,zeroline:false,minor:{dtick:mn,tick0:0,ticks:'inside',ticklen:8,tickwidth:1.2,tickcolor:col,showgrid:false},tickfont:{family:F,size:24.5,color:'#111'},title:{text:title,font:{family:F,size:28,color:'#111'},standoff:8},automargin:false};}
function yax(t,b,col,title,anchor){return {domain:[py(b),py(t)],range:[-31,-24],dtick:2,tick0:-24,ticks:'inside',ticklen:16,tickwidth:1.4,tickcolor:col,mirror:'allticks',showline:true,linecolor:col==='#fff'?'#fff':'#000',linewidth:1.6,showgrid:false,zeroline:false,minor:{dtick:.5,tick0:-24,ticks:'inside',ticklen:8,tickwidth:1.2,tickcolor:col,showgrid:false},tickfont:{family:F,size:25,color:'#111'},ticklabelstandoff:5,title:{text:title,font:{family:F,size:28,color:'#111'},standoff:30},anchor,automargin:false};}
const mTitle='<i>m</i><sub>χ̃<sup>0</sup><sub>1</sub></sub> (GeV)';
const yT='log<sub>10</sub> (<i>f</i><sup> 2</sup> · ⟨<i>σv</i>⟩/cm<sup>3</sup> s<sup>−1</sup>)';
const yT0='log<sub>10</sub> (<i>f</i><sup> 2</sup> · ⟨<i>σv</i>⟩<sub>0</sub>/cm<sup>3</sup> s<sup>−1</sup>)';

const annotations=[], shapes=[];
function note(x,y,text,o){annotations.push(Object.assign({xref:'paper',yref:'paper',x:px(x),y:py(y),text,showarrow:false,xanchor:'center',yanchor:'middle',font:{family:F,size:16,color:'#111'}},o||{}));}

// black ground of panel 1
shapes.push({type:'rect',xref:'paper',yref:'paper',x0:px(117),x1:px(522),y0:py(429),y1:py(17),fillcolor:'#000',line:{width:0},layer:'below'});

// GAMBIT tags
[[523,7],[1176,7],[523,534],[1176,534]].forEach(p=>note(p[0],p[1],'GAMBIT 1.0.0',{xanchor:'right',font:{family:'"DejaVu Sans",sans-serif',size:11.2,color:'#333'}}));
// panel names
note(425,217,'<b>CMSSM</b>',{font:{family:F,size:24,color:'#fff'}});
note(405,245,'Best fit',{xanchor:'left',font:{family:F,size:19,color:'#e8e8e8'}});
note(1098,245,'<b>NUHM1</b>',{font:{family:F,size:24,color:'#111'}});
note(381,772,'<b>CMSSM</b>',{font:{family:F,size:24,color:'#111'}});
note(1107,860,'<b>NUHM2</b>',{font:{family:F,size:24,color:'#111'}});
// colour bar title
note(609,223,'Profile likelihood ratio Λ = ℒ/ℒ<sub>max</sub>',{textangle:90,font:{family:F,size:21.5,color:'#222'}});
// curve keys inside the panels
const curveColors=[CURVE.tau,CURVE.bb,CURVE.bb,CURVE.cta];
const curveDash=['solid','solid','7px,3px','7px,3px'];
function curveKey(x0,x1,tx,rows,col){
  rows.forEach((y,i)=>{
    shapes.push({type:'line',xref:'paper',yref:'paper',x0:px(x0),x1:px(x1),y0:py(y),y1:py(y),line:{color:curveColors[i],width:2,dash:curveDash[i]}});
    note(tx,y,curveNames[i],{xanchor:'left',font:{family:F,size:17.5,color:col}});
  });
}
curveKey(275,297,298,[281,302,323,344],'#e4e4e4');
curveKey(930,962,966,[281,303,325,346],'#111');
curveKey(278,310,314,[807,829,851,872],'#111');
curveKey(930,962,966,[849,871,893,914],'#111');
// bottom key
const tildeFont=s=>'<span style="font-family:DejaVu Serif">'+s+'</span>';
[[117,150,C.red,C.redE,166,tildeFont('t̃')+'<sub>1</sub> co-annihilation'],[402,435,C.org,C.orgE,453,'<i>A/H</i> funnel'],[625,659,C.yel,C.yelE,676,tildeFont('χ̃')+'<sub>1</sub><sup>±</sup> co-annihilation'],[918,952,C.blu,C.bluE,975,tildeFont('τ̃')+'<sub>1</sub> co-annihilation']].forEach(k=>{
  shapes.push({type:'rect',xref:'paper',yref:'paper',x0:px(k[0]),x1:px(k[1]),y0:py(1071),y1:py(1047),fillcolor:k[2],line:{color:k[3],width:2.5}});
  note(k[4],1059,k[5],{xanchor:'left',font:{family:F,size:26.8,color:'#111'}});
});
// card-fan logo, offsets in px from panel bottom-right corner
const backCards=[[[-88,-37],[-33,-56],[-29,-52],[-75,-39]],[[-75,-39],[-15,-51],[-12,-47],[-60,-40]],[[-60,-40],[1,-46],[1,-41],[-46,-40]],[[-33,-38],[1,-39],[1,-36],[-20,-37]]];
const frontCards=[[[-103,-31],[-88,-37],[-77,0],[-93,0]],[[-88,-37],[-75,-39],[-72,0],[-82,0]],[[-76,-39],[-60,-40],[-61,0],[-73,0]],[[-60,-40],[-46,-40],[-51,0],[-61,0]],[[-46,-40],[-33,-38],[-41,0],[-51,0]],[[-33,-38],[-20,-37],[-31,0],[-41,0]],[[-20,-37],[0,-32],[0,0],[-31,0]]];
const cardLetters=[['G',-95,-23,-20,'#111'],['A',-82,-27,-10,'#111'],['M',-69,-29,-3,'#111'],['B',-55,-30,0,'#e01010'],['I',-43,-30,6,'#e01010'],['T',-31,-28,12,'#e01010'],['ℒ',-17,-26,20,'#111']];
const cardSuits=[['♠',-92,-9,-20,'#111'],['♣',-80,-13,-10,'#111'],['♠',-68,-15,-3,'#111'],['♥',-55,-16,0,'#e01010'],['♦',-43,-16,6,'#e01010'],['♥',-32,-14,12,'#e01010'],['♠',-20,-12,20,'#111']];
function logo(R,B){
  const toPath=q=>'M'+q.map(p=>px(R+p[0]).toFixed(5)+','+py(B+p[1]).toFixed(5)).join('L')+'Z';
  backCards.concat(frontCards).forEach(q=>shapes.push({type:'path',xref:'paper',yref:'paper',path:toPath(q),fillcolor:'#fff',line:{color:'#000',width:1}}));
  cardLetters.forEach(c=>note(R+c[1],B+c[2],c[0],{textangle:c[3],font:{family:F,size:12,color:c[4]}}));
  cardSuits.forEach(c=>note(R+c[1],B+c[2],c[0],{textangle:c[3],font:{family:'"DejaVu Sans",sans-serif',size:11,color:c[4]}}));
}
logo(522,429);logo(1175,430);logo(522,956);

const layout={
 width:W,height:H,margin:{l:0,r:0,t:0,b:0},paper_bgcolor:'#fff',plot_bgcolor:'rgba(0,0,0,0)',autosize:false,showlegend:false,
 xaxis:xax(117,522,500,100,2800,'#fff',mTitle),
 yaxis:yax(17,429,'#fff',yT,'x'),
 xaxis2:xax(768,1175,1000,250,4760,'#000',mTitle),
 yaxis2:yax(16,430,'#000',yT0,'x2'),
 xaxis3:xax(116,522,500,100,2800,'#000',mTitle),
 yaxis3:yax(543,956,'#000',yT0,'x3'),
 xaxis4:xax(768,1175,1000,250,4760,'#000',mTitle),
 yaxis4:yax(543,956,'#000',yT0,'x4'),
 xaxis5:{domain:[px(530),px(556)],range:[0,1],visible:false,anchor:'y5'},
 yaxis5:{domain:[py(416),py(31)],range:[0,1],side:'right',anchor:'x5',tickvals:barTicks,ticktext:['0.2','0.4','0.6','0.8','1.0'],ticks:'inside',ticklen:16,tickwidth:1.2,tickcolor:'#000',showline:true,linecolor:'#000',linewidth:2,mirror:true,showgrid:false,zeroline:false,minor:{dtick:.05,tick0:0,ticks:'inside',ticklen:8,tickwidth:1,tickcolor:'#000',showgrid:false},tickfont:{family:F,size:20,color:'#111'}},
 annotations,shapes
};
layout.xaxis.anchor='y';layout.xaxis2.anchor='y2';layout.xaxis3.anchor='y3';layout.xaxis4.anchor='y4';
Plotly.newPlot('c',traces,layout,{displayModeBar:false,staticPlot:true});
</script></body></html>
